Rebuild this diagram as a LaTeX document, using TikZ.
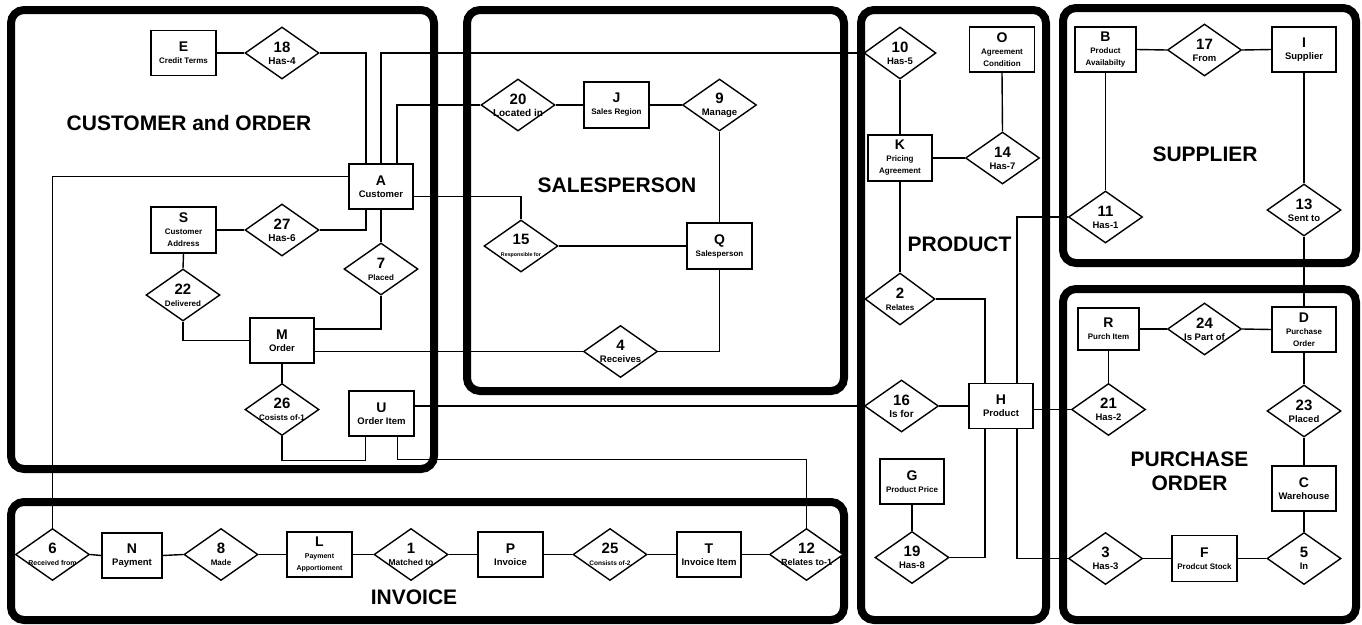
\documentclass[tikz,border=0pt]{standalone}
\usepackage{fontspec}
\setmainfont{Liberation Sans}
\usetikzlibrary{shapes.geometric}

% text sizes
\newcommand\ebig{\fontsize{14}{15}\selectfont}
\newcommand\esz[1]{\fontsize{#1}{#1}\selectfont}
\newcommand\relt[3]{{\fontsize{15}{15}\selectfont #1}\\{\fontsize{#2}{#2}\selectfont #3}}

\tikzset{
  group/.style={draw, line width=8pt, rounded corners=13pt},
  gtitle/.style={font=\fontsize{21}{24}\selectfont\bfseries, align=center, inner sep=0pt},
  ent/.style={draw, line width=1.4pt, rectangle, minimum width=65pt, minimum height=45pt,
    inner sep=0pt, align=center, font=\bfseries, fill=white},
  rel/.style={draw, line width=1.4pt, diamond, minimum width=74pt, minimum height=52pt,
    inner sep=0pt, fill=white},
  rtxt/.style={align=center, font=\bfseries, inner sep=0pt},
  rlab/.style n args={3}{label={[rtxt]center:{\relt{#1}{#2}{#3}}}},
}

\begin{document}
\begin{tikzpicture}[x=1pt, y=-1pt]
\useasboundingbox (0,0) rectangle (1362,624);

% subject-area frames
\draw[group] (11,10) rectangle (434,469);
\draw[group] (467,10) rectangle (844,391);
\draw[group] (861,10) rectangle (1046,620);
\draw[group] (1063,8) rectangle (1356,263);
\draw[group] (1063,289) rectangle (1356,620);
\draw[group] (11,502) rectangle (844,620);

% subject-area titles
\node[gtitle] (tCust) at (189,122.5) {CUSTOMER and ORDER};
\node[gtitle] (tSales) at (617,185) {SALESPERSON};
\node[gtitle] (tProd) at (959.5,244.5) {PRODUCT};
\node[gtitle] (tSupp) at (1205,154.5) {SUPPLIER};
\node[gtitle] (tPurch) at (1189.5,471) {PURCHASE\\ORDER};
\node[gtitle] (tInv) at (414,597.5) {INVOICE};

% entities
\node[ent] (E) at (183.5,53) {{\ebig E}\\{\esz{8}Credit Terms}};
\node[ent, minimum width=64pt] (A) at (381,186.5) {{\ebig A}\\{\esz{9.5}Customer}};
\node[ent, minimum height=46pt] (S) at (183.5,230) {{\ebig S}\\{\esz{8}Customer}\\{\esz{8}Address}};
\node[ent, minimum width=64pt] (M) at (282,340.5) {{\ebig M}\\{\esz{9.5}Order}};
\node[ent] (U) at (381.5,413.5) {{\ebig U}\\{\esz{9.5}Order Item}};
\node[ent, minimum height=46pt] (J) at (616.5,105) {{\ebig J}\\{\esz{8}Sales Region}};
\node[ent, minimum height=46pt] (Q) at (719.5,246) {{\ebig Q}\\{\esz{8}Salesperson}};
\node[ent, minimum width=64pt, minimum height=46pt] (K) at (900,158) {{\ebig K}\\{\esz{8}Pricing}\\{\esz{8}Agreement}};
\node[ent] (O) at (1002,49.5) {{\ebig O}\\{\esz{8}Agreement}\\{\esz{8}Condition}};
\node[ent, minimum width=64pt] (H) at (1001,406) {{\ebig H}\\{\esz{9.5}Product}};
\node[ent, minimum width=64pt] (G) at (912,481.5) {{\ebig G}\\{\esz{8}Product Price}};
\node[ent, minimum width=61pt] (B) at (1105.5,49.5) {{\ebig B}\\{\esz{8}Product}\\{\esz{8}Availabilty}};
\node[ent, minimum width=64pt] (I) at (1304,49.5) {{\ebig I}\\{\esz{9.5}Supplier}};
\node[ent, minimum width=61pt, minimum height=42pt] (R) at (1108.5,329) {{\ebig R}\\{\esz{8}Purch Item}};
\node[ent, minimum width=64pt] (D) at (1304,329.5) {{\ebig D}\\{\esz{8}Purchase}\\{\esz{8}Order}};
\node[ent, minimum width=64pt] (C) at (1304,488.5) {{\ebig C}\\{\esz{9.5}Warehouse}};
\node[ent, minimum height=46pt] (F) at (1204.5,558.5) {{\ebig F}\\{\esz{8}Prodcut Stock}};
\node[ent, minimum width=60pt] (N) at (132,555.5) {{\ebig N}\\{\esz{9.5}Payment}};
\node[ent] (L) at (319.5,554.5) {{\ebig L}\\{\esz{7}Payment}\\{\esz{7}Apportioment}};
\node[ent] (P) at (510.5,554.5) {{\ebig P}\\{\esz{9.5}Invoice}};
\node[ent, minimum width=64pt] (T) at (709,554.5) {{\ebig T}\\{\esz{9.5}Invoice Item}};

% relationships
\node[rel, rlab={18}{10}{Has-4}] (r18) at (282,53) {};
\node[rel, rlab={27}{10}{Has-6}] (r27) at (282,230) {};
\node[rel, rlab={7}{8}{Placed}] (r7) at (381,269) {};
\node[rel, rlab={22}{8}{Delivered}] (r22) at (183,295) {};
\node[rel, rlab={26}{8}{Cosists of-1}] (r26) at (282,409.5) {};
\node[rel, rlab={20}{10}{Located in}] (r20) at (518,105) {};
\node[rel, rlab={9}{9.5}{Manage}] (r9) at (719.5,105) {};
\node[rel, rlab={15}{5.3}{Responsible for}] (r15) at (521,246) {};
\node[rel, rlab={4}{9.5}{Receives}] (r4) at (620.5,351.5) {};
\node[rel, minimum width=72pt, rlab={10}{9.5}{Has-5}] (r10) at (900,53) {};
\node[rel, rlab={14}{9.5}{Has-7}] (r14) at (1002.5,158) {};
\node[rel, minimum width=70pt, rlab={2}{8}{Relates}] (r2) at (900,299) {};
\node[rel, rlab={16}{10}{Is for}] (r16) at (901.5,406) {};
\node[rel, rlab={11}{9.5}{Has-1}] (r11) at (1105.5,217) {};
\node[rel, rlab={13}{9.5}{Sent to}] (r13) at (1304,210) {};
\node[rel, rlab={17}{9.5}{From}] (r17) at (1204.5,50) {};
\node[rel, rlab={21}{9.5}{Has-2}] (r21) at (1108.5,409.5) {};
\node[rel, rlab={24}{9.5}{Is Part of}] (r24) at (1204.5,329) {};
\node[rel, rlab={23}{9.5}{Placed}] (r23) at (1304,411) {};
\node[rel, rlab={19}{9.5}{Has-8}] (r19) at (912,557.5) {};
\node[rel, rlab={3}{9.5}{Has-3}] (r3) at (1105.5,558.5) {};
\node[rel, rlab={5}{9.5}{In}] (r5) at (1304,558.5) {};
\node[rel, rlab={6}{7}{Received from}] (r6) at (52.5,554.5) {};
\node[rel, rlab={8}{8}{Made}] (r8) at (221,554.5) {};
\node[rel, rlab={1}{8.5}{Matched to}] (r1) at (411,554.5) {};
\node[rel, rlab={25}{6.5}{Consists of-2}] (r25) at (610,554.5) {};
\node[rel, rlab={12}{9}{Relates to-1}] (r12) at (806.5,554.5) {};

% connectors
\begin{scope}[line width=1.4pt]
% customer and order
\draw (E.east) -- (r18.west);
\draw (r18.east) -| ([xshift=-15pt]A.north);
\draw (A.north) |- (r10.west);
\draw ([xshift=16pt]A.north) |- (r20.west);
\draw ([yshift=-10pt]A.east) -| (r15.north);
\draw ([yshift=10pt]A.west) -| (r6.north);
\draw (r27.east) -| ([xshift=-15pt]A.south);
\draw (A.south) -- (r7.north);
\draw (S.east) -- (r27.west);
\draw (S.south) -- (r22.north);
\draw (r22.south) |- (M.west);
\draw (r7.south) |- ([yshift=11.5pt]M.east);
\draw ([yshift=-11pt]M.east) -- (r4.west);
\draw (M.south) -- (r26.north);
\draw (r26.south) -- ++(0,24) -| ([xshift=-16pt]U.south);
\draw ([yshift=7.5pt]U.east) -- (r16.west);
\draw ([xshift=16pt]U.south) -- ++(0,23) -| (r12.north);
% salesperson
\draw (r20.east) -- (J.west);
\draw (J.east) -- (r9.west);
\draw (r9.south) -- (Q.north);
\draw (r15.east) -- (Q.west);
\draw (Q.south) |- (r4.east);
% product
\draw (r10.south) -- (K.north);
\draw (O.south) -- (r14.north);
\draw (K.east) -- (r14.west);
\draw (K.south) -- (r2.north);
\draw (r2.east) -| ([xshift=-16pt]H.north);
\draw (r11.west) -| ([xshift=16pt]H.north);
\draw (r16.east) -- (H.west);
\draw ([yshift=-3.5pt]H.east) -- (r21.west);
\draw ([xshift=-16pt]H.south) |- (r19.east);
\draw ([xshift=16pt]H.south) |- (r3.west);
\draw (G.south) -- (r19.north);
% supplier
\draw (B.east) -- (r17.west);
\draw (r17.east) -- (I.west);
\draw (B.south) -- (r11.north);
\draw (I.south) -- (r13.north);
\draw (r13.south) -- (D.north);
% purchase order
\draw (R.east) -- (r24.west);
\draw (r24.east) -- (D.west);
\draw (R.south) -- (r21.north);
\draw (D.south) -- (r23.north);
\draw (r23.south) -- (C.north);
\draw (C.south) -- (r5.north);
\draw (r3.east) -- (F.west);
\draw (F.east) -- (r5.west);
% invoice
\draw (r6.east) -- (N.west);
\draw (N.east) -- (r8.west);
\draw (r8.east) -- (L.west);
\draw (L.east) -- (r1.west);
\draw (r1.east) -- (P.west);
\draw (P.east) -- (r25.west);
\draw (r25.east) -- (T.west);
\draw (T.east) -- (r12.west);
\end{scope}
\end{tikzpicture}
\end{document}
